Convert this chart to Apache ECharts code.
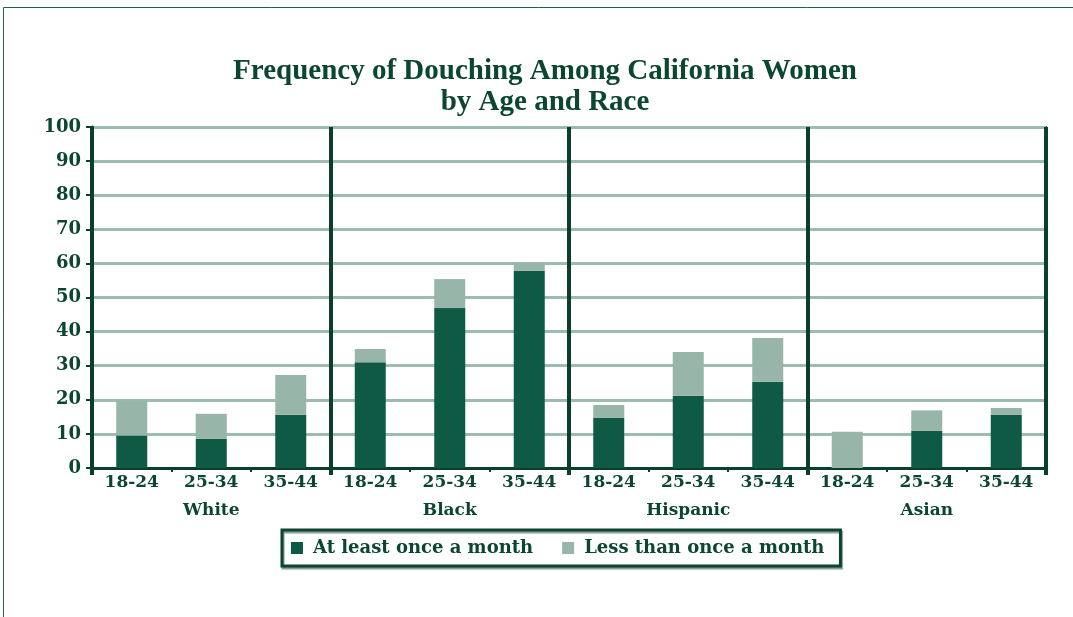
<!DOCTYPE html>
<html>
<head>
<meta charset="utf-8">
<script src="https://cdn.jsdelivr.net/npm/echarts@6/dist/echarts.min.js"></script>
<style>
  html, body { margin: 0; padding: 0; background: #ffffff; }
  #chart { width: 1073px; height: 617px; }
</style>
</head>
<body>
<div id="chart"></div>
<script>
// Age bands, repeated within each race group
const ageGroups = ['18-24', '25-34', '35-44'];
const races = ['White', 'Black', 'Hispanic', 'Asian'];
const categories = races.flatMap(r => ageGroups.map(a => r + ' ' + a));

// Percent of women douching, by race and age band
const atLeastMonthly = [9.5, 8.6, 15.6, 31.0, 46.9, 57.8, 14.7, 21.2, 25.3, 0, 10.9, 15.6];
const lessThanMonthly = [10.3, 7.3, 11.7, 3.9, 8.5, 2.2, 3.8, 12.8, 12.8, 10.6, 6.0, 2.0];

const yTicks = { min: 0, max: 100, interval: 10 };

const DARK = '#0f5a44';
const LIGHT = '#97b5a9';
const INK = '#0b4631';
const AXIS = '#0a3f2d';
const SERIF = "'DejaVu Serif', 'Liberation Serif', serif";

const chart = echarts.init(document.getElementById('chart'));
chart.setOption({
  backgroundColor: '#ffffff',
  animation: false,
  title: {
    text: 'Frequency of Douching Among California Women\nby Age and Race',
    left: 545,
    textAlign: 'center',
    top: 56,
    padding: 0,
    textStyle: {
      fontFamily: "'Liberation Serif', 'Times New Roman', serif",
      fontWeight: 'bold',
      fontSize: 29,
      lineHeight: 31,
      color: INK
    }
  },
  graphic: [{
    type: 'rect',
    shape: { x: 3.5, y: 7.5, width: 1200, height: 700 },
    style: { fill: 'none', stroke: '#1f6048', lineWidth: 1 },
    silent: true
  }],
  legend: {
    left: 282,
    top: 530,
    padding: [9, 16, 9, 9],
    itemWidth: 12,
    itemHeight: 12,
    itemGap: 29,
    borderColor: '#0c4632',
    borderWidth: 3,
    shadowColor: 'rgba(60,90,80,0.6)',
    shadowOffsetX: 1,
    shadowOffsetY: 2,
    shadowBlur: 1,
    backgroundColor: '#ffffff',
    icon: 'rect',
    textStyle: {
      fontFamily: SERIF, fontWeight: 'bold', fontSize: 18, color: INK,
      padding: [0, 0, 0, 5]
    },
    data: ['At least once a month', 'Less than once a month']
  },
  grid: {
    left: 92, right: 27, top: 127, bottom: 149,
    show: true,
    borderColor: '#3c7561',
    borderWidth: 2,
    backgroundColor: 'transparent'
  },
  xAxis: [{
    type: 'category',
    data: categories,
    position: 'bottom',
    axisLine: { lineStyle: { color: AXIS, width: 3 } },
    axisTick: { show: true, length: 4, lineStyle: { color: AXIS, width: 2 } },
    axisLabel: {
      interval: 0,
      margin: 6,
      fontFamily: SERIF, fontWeight: 'bold', fontSize: 17, color: INK,
      formatter: v => v.split(' ')[1]
    },
    splitLine: { show: false }
  }, {
    type: 'category',
    data: races,
    position: 'bottom',
    axisLine: { show: false },
    axisTick: { show: true, length: 7, lineStyle: { color: AXIS, width: 4 } },
    axisLabel: {
      interval: 0,
      margin: 34,
      fontFamily: SERIF, fontWeight: 'bold', fontSize: 17, color: INK
    },
    splitLine: {
      show: true,
      interval: 0,
      lineStyle: { color: AXIS, width: 4 }
    }
  }],
  yAxis: {
    type: 'value',
    min: yTicks.min,
    max: yTicks.max,
    interval: yTicks.interval,
    axisLine: { show: true, lineStyle: { color: AXIS, width: 3 } },
    axisTick: { show: true, length: 6, lineStyle: { color: AXIS, width: 2 } },
    axisLabel: { margin: 11, fontFamily: SERIF, fontWeight: 'bold', fontSize: 18, color: INK },
    splitLine: { show: true, lineStyle: { color: '#9dbcb0', width: 3 } }
  },
  series: [{
    name: 'At least once a month',
    type: 'bar',
    stack: 'freq',
    barWidth: '39%',
    itemStyle: { color: DARK },
    data: atLeastMonthly,
    z: 1
  }, {
    name: 'Less than once a month',
    type: 'bar',
    stack: 'freq',
    barWidth: '39%',
    itemStyle: { color: LIGHT },
    data: lessThanMonthly,
    z: 1
  }]
});
</script>
</body>
</html>
